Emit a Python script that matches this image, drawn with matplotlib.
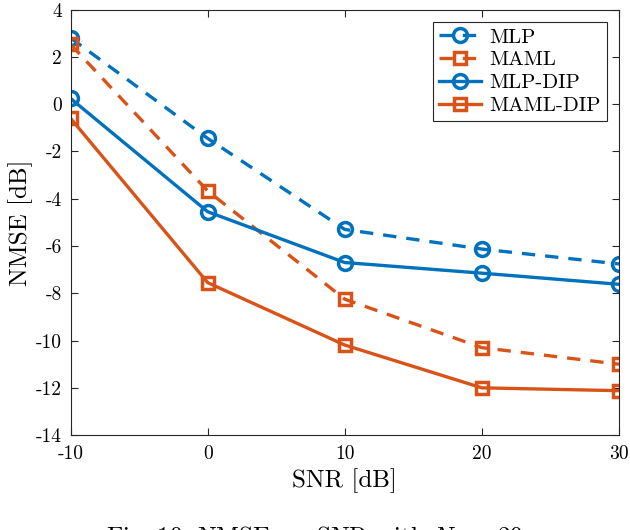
import matplotlib
matplotlib.use("Agg")
import matplotlib.pyplot as plt

# data
snr = [-10, 0, 10, 20, 30]
mlp = [2.8, -1.45, -5.3, -6.13, -6.76]
maml = [2.53, -3.67, -8.25, -10.3, -11.0]
mlp_dip = [0.24, -4.55, -6.7, -7.15, -7.62]
maml_dip = [-0.6, -7.55, -10.19, -12.0, -12.12]

xticks = [-10, 0, 10, 20, 30]
yticks = [4, 2, 0, -2, -4, -6, -8, -10, -12, -14]

blue = "#0072BD"
orange = "#D95319"

plt.rcParams["font.family"] = "serif"
plt.rcParams["font.serif"] = ["cmr10", "DejaVu Serif"]
plt.rcParams["mathtext.fontset"] = "cm"
plt.rcParams["axes.unicode_minus"] = False

fig = plt.figure(figsize=(6.3, 5.3), dpi=100)
ax = fig.add_axes([0.112, 0.179, 0.8705, 0.803])

ax.plot(snr, mlp, "--o", color=blue, lw=2.4, ms=10, mew=2.5, mfc="none", label="MLP", dashes=(4, 3))
ax.plot(snr, maml, "--s", color=orange, lw=2.4, ms=9, mew=2.5, mfc="none", label="MAML", dashes=(4, 3))
ax.plot(snr, mlp_dip, "-o", color=blue, lw=2.4, ms=10, mew=2.5, mfc="none", label="MLP-DIP")
ax.plot(snr, maml_dip, "-s", color=orange, lw=2.4, ms=9, mew=2.5, mfc="none", label="MAML-DIP")

ax.set_xlim(-10, 30)
ax.set_ylim(-14, 4)
ax.set_xticks(xticks)
ax.set_xticklabels([str(t) for t in xticks])
ax.set_yticks(yticks)
ax.set_yticklabels([str(t) for t in yticks])
ax.tick_params(direction="in", length=5, width=0.8, labelsize=14, top=True, right=True, color="#262626")
ax.tick_params(axis="y", pad=6)
ax.tick_params(axis="x", pad=7)
for s in ax.spines.values():
    s.set_linewidth(0.8)
    s.set_color("#262626")

ax.set_xlabel("SNR [dB]", fontsize=18, labelpad=4)
ax.set_ylabel("NMSE [dB]", fontsize=18, labelpad=2)

leg = ax.legend(loc="upper right", fontsize=15, handlelength=2.0, borderpad=0.3,
                labelspacing=0.2, handletextpad=0.4, fancybox=False, framealpha=1,
                borderaxespad=0, bbox_to_anchor=(0.978, 0.971))
leg.get_frame().set_edgecolor("#262626")
leg.get_frame().set_linewidth(0.8)

fig.text(0.5, 0.012, r"Fig. 10: NMSE vs. SNR with $N_{\mathrm{t}}$ = 20", ha="center", va="top", fontsize=18)

fig.savefig("out.png", dpi=100)
